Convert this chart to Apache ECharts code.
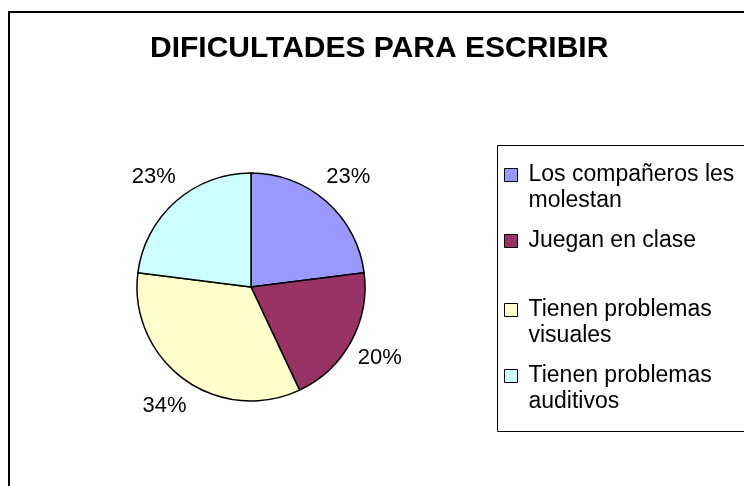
<!DOCTYPE html>
<html>
<head>
<meta charset="utf-8">
<script src="https://cdn.jsdelivr.net/npm/echarts@6/dist/echarts.min.js"></script>
<style>
  html, body { margin: 0; padding: 0; background: #fff; }
  #chart1 { width: 744px; height: 486px; }
</style>
</head>
<body>
<div id="chart1"></div>
<script>
// datos del gráfico
const titulo = 'DIFICULTADES PARA ESCRIBIR';
const categorias = ['Los compañeros les molestan', 'Juegan en clase', 'Tienen problemas visuales', 'Tienen problemas auditivos'];
const valores = [23, 20, 34, 23];
const colores = ['#9999FF', '#993366', '#FFFFCC', '#CCFFFF'];
const textoLeyenda = ['Los compañeros les\nmolestan', 'Juegan en clase', 'Tienen problemas\nvisuales', 'Tienen problemas\nauditivos'];

const fuente = '"Liberation Sans", Arial, sans-serif';

// posiciones de cada item de la leyenda (estilo Excel)
const leyendaTop = [161, 227, 296, 362];
const iconoDosLineas = 'path://M0,0 M0,7 L13,7 L13,20 L0,20 Z M19,52';
const iconoUnaLinea = 'path://M0,0 M0,7 L13,7 L13,20 L0,20 Z M19,26';

const getOptionChart1 = () => {
    const leyendas = categorias.map((nombre, i) => {
        const dosLineas = textoLeyenda[i].indexOf('\n') >= 0;
        return {
            data: [nombre],
            orient: 'vertical',
            left: 504,
            top: leyendaTop[i],
            padding: 0,
            itemWidth: 19,
            itemHeight: dosLineas ? 52 : 26,
            icon: dosLineas ? iconoDosLineas : iconoUnaLinea,
            itemStyle: { borderColor: '#000', borderWidth: 1 },
            selectedMode: false,
            formatter: () => textoLeyenda[i],
            textStyle: {
                fontFamily: fuente,
                fontSize: 23,
                lineHeight: 26,
                color: '#000'
            }
        };
    });

    return {
        animation: false,
        backgroundColor: '#fff',
        title: {
            text: titulo,
            left: 150,
            top: 34,
            padding: 0,
            textStyle: {
                fontFamily: fuente,
                fontSize: 30,
                fontWeight: 'bold',
                color: '#000'
            }
        },
        legend: leyendas,
        graphic: [
            {
                type: 'rect',
                shape: { x: 9, y: 12, width: 800, height: 600 },
                style: { fill: 'none', stroke: '#000', lineWidth: 2 },
                z: -1
            },
            {
                type: 'rect',
                shape: { x: 497.5, y: 145.5, width: 300, height: 286 },
                style: { fill: 'none', stroke: '#000', lineWidth: 1 },
                z: -1
            }
        ],
        series: [
            {
                name: titulo,
                type: 'pie',
                center: [251, 287],
                radius: 114,
                startAngle: 90,
                clockwise: true,
                avoidLabelOverlap: false,
                data: categorias.map((nombre, i) => ({
                    name: nombre,
                    value: valores[i],
                    itemStyle: { color: colores[i] }
                })),
                itemStyle: {
                    borderColor: '#000',
                    borderWidth: 1.5
                },
                label: {
                    show: true,
                    position: 'outside',
                    distanceToLabelLine: 0,
                    formatter: (p) => Math.round(p.percent) + '%',
                    fontFamily: fuente,
                    fontSize: 22,
                    color: '#000'
                },
                labelLine: {
                    show: false,
                    length: 33,
                    length2: 0
                },
                labelLayout: () => ({ align: 'center' }),
                emphasis: { disabled: true }
            }
        ]
    };
};

const initCharts = () => {
    const chart1 = echarts.init(document.getElementById('chart1'));
    chart1.setOption(getOptionChart1());
};

window.addEventListener('load', () => {
    initCharts();
});
</script>
</body>
</html>
